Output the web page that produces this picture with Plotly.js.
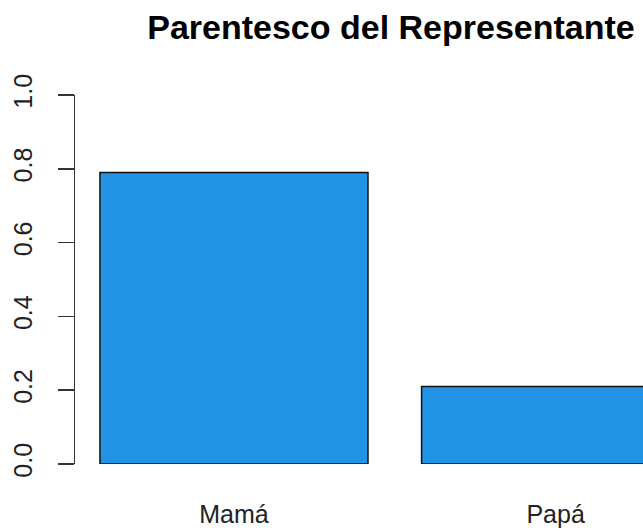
<!DOCTYPE html>
<html>
<head>
<meta charset="utf-8">
<script src="https://cdn.plot.ly/plotly-3.0.1.min.js"></script>
<style>html,body{margin:0;padding:0;background:#fff;}#chart{width:643px;height:531px;}</style>
</head>
<body>
<div id="chart"></div>
<script>
const categories = ["Mamá", "Papá"];
const proportions = [0.79, 0.21];
const barPositions = [0.7, 1.9];
const yTickValues = [0, 0.2, 0.4, 0.6, 0.8, 1.0];
const chartTitle = "Parentesco del Representante";

const trace = {
  type: "bar",
  x: barPositions,
  y: proportions,
  width: 1,
  marker: {color: "#2394e5", line: {color: "#111111", width: 1.5}},
  hoverinfo: "skip"
};

const layout = {
  width: 643, height: 531,
  margin: {l: 75, r: 0, t: 95, b: 67, pad: 0},
  paper_bgcolor: "#ffffff", plot_bgcolor: "#ffffff",
  showlegend: false,
  font: {family: "Liberation Sans, Arial, sans-serif", color: "#222222"},
  title: {
    text: "<b>" + chartTitle + "</b>",
    font: {size: 34, color: "#000000", family: "Liberation Sans, Arial, sans-serif"},
    xref: "container", yref: "container",
    x: 391 / 643, xanchor: "center",
    y: 1 - 27 / 531, yanchor: "middle"
  },
  xaxis: {
    range: [0.107, 2.226],
    tickmode: "array", tickvals: barPositions, ticktext: categories,
    ticks: "", showline: false, showgrid: false, zeroline: false,
    tickfont: {size: 25, color: "#222222"},
    ticklabelstandoff: 33,
    fixedrange: true
  },
  yaxis: {
    range: [0, 1],
    tickmode: "array", tickvals: yTickValues,
    tickformat: ".1f",
    ticks: "outside", ticklen: 16, tickwidth: 1.5, tickcolor: "#333333",
    showline: true, linecolor: "#333333", linewidth: 1.5,
    showgrid: false, zeroline: false,
    tickangle: -90,
    tickfont: {size: 25, color: "#222222"},
    ticklabelstandoff: 16,
    fixedrange: true
  },
  bargap: 0
};

Plotly.newPlot("chart", [trace], layout, {displayModeBar: false, staticPlot: true});
</script>
</body>
</html>
